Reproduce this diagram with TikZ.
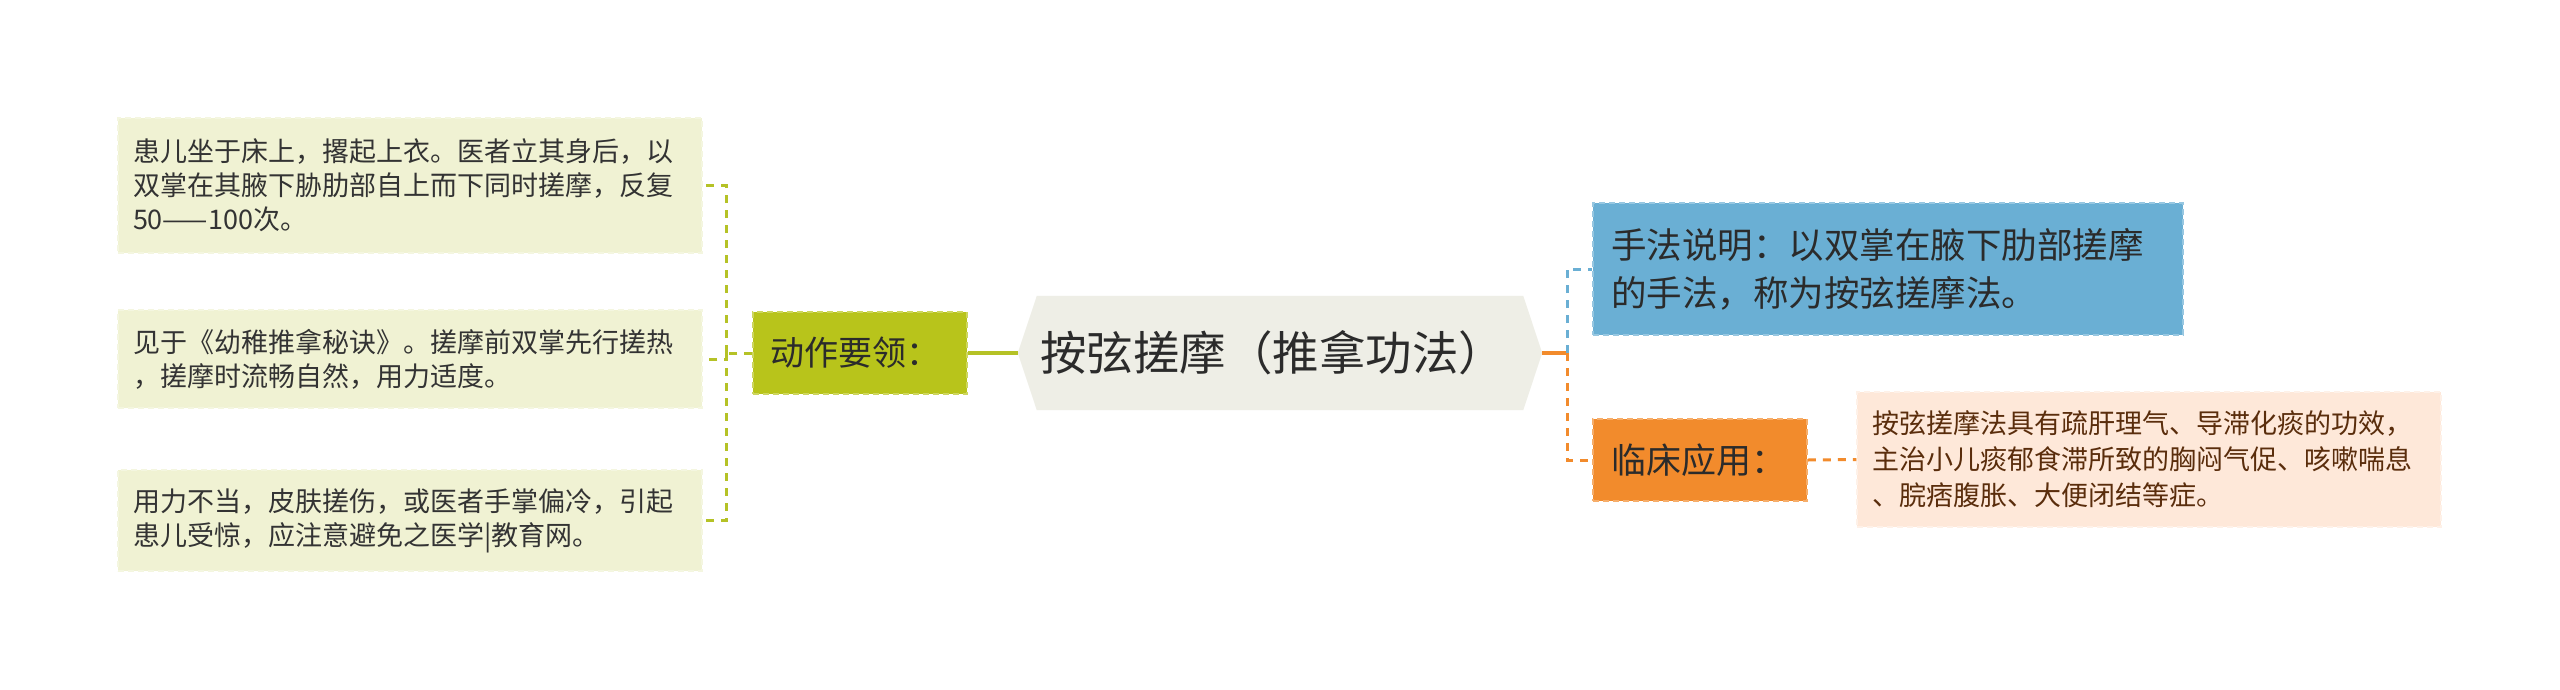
\documentclass[tikz,border=0pt]{standalone}
\usepackage{fontspec}
\setmainfont{Noto Sans CJK SC}
\usetikzlibrary{calc}
\pgfdeclarelayer{bg}
\pgfsetlayers{bg,main}
\definecolor{leftfill}{HTML}{F0F2D3}
\definecolor{olive}{HTML}{B8C41B}
\definecolor{oliveline}{HTML}{B5C226}
\definecolor{centerfill}{HTML}{EEEEE6}
\definecolor{bluefill}{HTML}{6AAFD4}
\definecolor{orangefill}{HTML}{F28B2C}
\definecolor{peachfill}{HTML}{FEE8D9}
\definecolor{peachtext}{HTML}{5A2D0C}
\definecolor{darktext}{HTML}{2B2B2B}
\definecolor{lefttext}{HTML}{333333}
\begin{document}
\begin{tikzpicture}[x=1pt,y=-1pt,
  bordered/.style={inner ysep=0pt, align=left, line width=1.5pt, dash pattern=on 6pt off 4pt},
  lbox/.style={bordered, fill=leftfill, draw=leftfill!70!white, text=lefttext,
    text width=554pt, inner xsep=15pt, font=\fontsize{27pt}{34pt}\selectfont},
  dzbox/.style={bordered, fill=olive, draw=olive!70!white, text=darktext,
    text width=180pt, inner xsep=17pt, minimum height=82pt, font=\fontsize{34pt}{42pt}\selectfont},
  bbox/.style={bordered, fill=bluefill, draw=bluefill!70!white, text=darktext,
    text width=554pt, inner xsep=18pt, minimum height=132pt, font=\fontsize{35.5pt}{48pt}\selectfont},
  obox/.style={bordered, fill=orangefill, draw=orangefill!70!white, text=darktext,
    text width=178pt, inner xsep=18pt, minimum height=82pt, font=\fontsize{35pt}{42pt}\selectfont},
  pbox/.style={bordered, fill=peachfill, draw=peachfill!60!white, text=peachtext,
    text width=554pt, inner xsep=15pt, minimum height=135pt, font=\fontsize{27pt}{36pt}\selectfont},
  cnode/.style={inner ysep=0pt, inner xsep=22pt, text width=480pt, align=left,
    minimum height=114pt, text=darktext, font=\fontsize{46.5pt}{54pt}\selectfont},
  conn/.style={line width=3pt, dash pattern=on 8pt off 7pt},
  lconn/.style={conn, draw=oliveline},
  bconn/.style={conn, draw=bluefill},
  oconn/.style={conn, draw=orangefill},
  thick olive/.style={line width=4.5pt, draw=oliveline},
  thick orange/.style={line width=4.5pt, draw=orangefill}
]
\useasboundingbox (0,0) rectangle (2560,689);

% left detail boxes
\node[lbox, minimum height=135pt] (L1) at (410,185.5) {患儿坐于床上，撂起上衣。医者立其身后，以\\双掌在其腋下胁肋部自上而下同时搓摩，反复\\50——100次。};
\node[lbox, minimum height=98pt] (L2) at (410,359) {见于《幼稚推拿秘诀》。搓摩前双掌先行搓热\\，搓摩时流畅自然，用力适度。};
\node[lbox, minimum height=101pt] (L3) at (410,520.5) {用力不当，皮肤搓伤，或医者手掌偏冷，引起\\患儿受惊，应注意避免之医学|教育网。};

% branch nodes
\node[dzbox] (dz) at (860,353) {动作要领：};
\node[cnode] (c) at (1280,353) {按弦搓摩（推拿功法）};
\node[bbox] (blue) at (1888,269) {手法说明：以双掌在腋下肋部搓摩\\的手法，称为按弦搓摩法。};
\node[obox] (orange) at (1700,460) {临床应用：};
\node[pbox] (peach) at (2149,459.5) {按弦搓摩法具有疏肝理气、导滞化痰的功效，\\主治小儿痰郁食滞所致的胸闷气促、咳嗽喘息\\、脘痞腹胀、大便闭结等症。};

% background and central hexagon
\begin{pgfonlayer}{bg}
\fill[white] (0,0) rectangle (2560,689);
\fill[centerfill] (c.west) -- ([xshift=19pt]c.north west) -- ([xshift=-19pt]c.north east)
  -- (c.east) -- ([xshift=-19pt]c.south east) -- ([xshift=19pt]c.south west) -- cycle;
\end{pgfonlayer}

% connectors
\coordinate (lj) at ([xshift=-26pt]dz.west);
\coordinate (rj) at ([xshift=25pt]c.east);
\draw[thick olive] (dz.east) -- (c.west);
\draw[lconn] (dz.west) -- (lj);
\draw[lconn] (lj) |- (L1.east);
\draw[lconn] (lj) |- (L2.east);
\draw[lconn] (lj) |- (L3.east);
\draw[thick orange] (c.east) -- (rj);
\draw[bconn] (rj) |- (blue.west);
\draw[oconn] (rj) |- (orange.west);
\draw[oconn] (orange.east) -- (peach.west);
\end{tikzpicture}
\end{document}
